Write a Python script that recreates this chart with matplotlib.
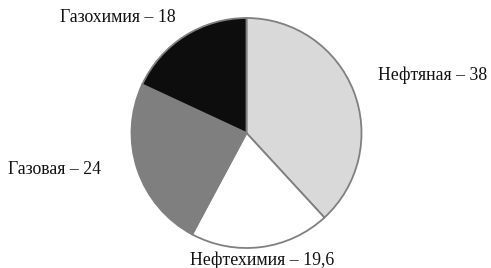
import matplotlib
matplotlib.use("Agg")
import matplotlib.pyplot as plt

labels = ["Нефтяная – 38", "Нефтехимия – 19,6", "Газовая – 24", "Газохимия – 18"]
values = [38, 19.6, 24, 18]
colors = ["#d9d9d9", "#ffffff", "#7f7f7f", "#0d0d0d"]

# label anchor points in pixel coords (left x, y from top)
label_pos = [(378, 75), (190, 260), (8, 169), (60, 17)]


def main():
    plt.rcParams["font.family"] = "serif"
    plt.rcParams["font.serif"] = ["Liberation Serif", "DejaVu Serif"]
    fig = plt.figure(figsize=(4.91, 2.68), dpi=100)
    ax = fig.add_axes([0, 0, 1, 1])

    ax.pie(values, colors=colors, startangle=90, counterclock=False,
           center=(246.5, 135), radius=115, frame=True,
           wedgeprops=dict(edgecolor="#808080", linewidth=1.3))
    ax.set_xlim(0, 491)
    ax.set_ylim(0, 268)
    ax.set_aspect("equal")
    ax.axis("off")

    for lab, (x, y) in zip(labels, label_pos):
        ax.text(x, 268 - y, lab, ha="left", va="center", fontsize=12.8, color="#111111")

    fig.savefig("out.png", dpi=100)


if __name__ == "__main__":
    main()
